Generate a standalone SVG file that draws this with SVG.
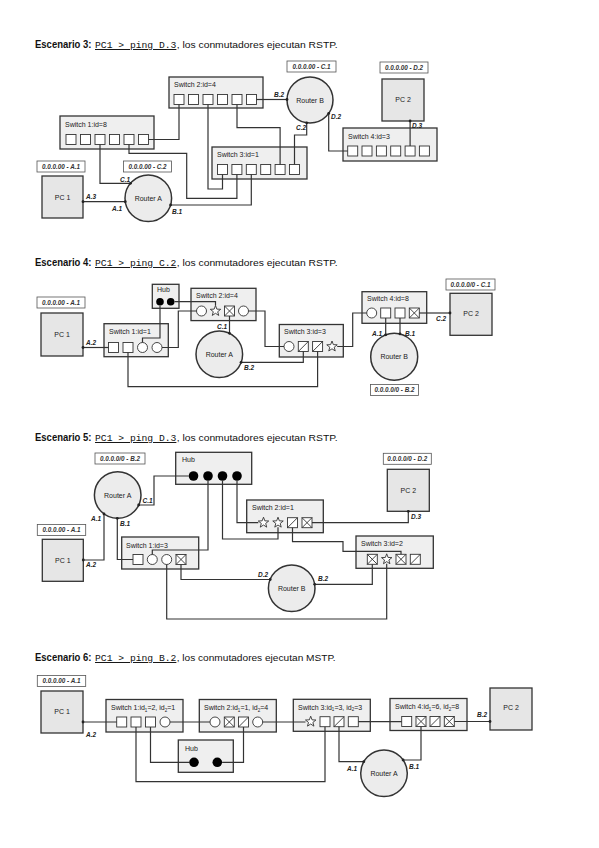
<svg xmlns="http://www.w3.org/2000/svg" xmlns:xlink="http://www.w3.org/1999/xlink" width="599" height="848" viewBox="0 0 599 848">
<style>
.bg{fill:#fff}
.sw{fill:#efefef;stroke:#333;stroke-width:1.3}
.pc{fill:#e6e6e6;stroke:#333;stroke-width:1.3}
.rt{fill:#ececec;stroke:#333;stroke-width:1.5}
.lb{fill:#fff;stroke:#555;stroke-width:0.8}
.port{fill:#fff;stroke:#333;stroke-width:0.9}
.hd{fill:#000}
.w{fill:none;stroke:#333;stroke-width:1.2}
.cd{fill:#222}
.t{font-family:"Liberation Sans",Arial,sans-serif;font-size:7px;fill:#1a1a1a}
.tc{font-family:"Liberation Sans",Arial,sans-serif;font-size:7px;fill:#1a1a1a;text-anchor:middle}
.lt{font-family:"Liberation Sans",Arial,sans-serif;font-size:6.3px;font-style:italic;font-weight:bold;fill:#333;text-anchor:middle}
.if{font-family:"Liberation Sans",Arial,sans-serif;font-size:6.5px;font-style:italic;font-weight:bold;fill:#222}
.esc{font-family:"Liberation Sans",Arial,sans-serif;font-size:10.5px;font-weight:bold;fill:#111}
.cmd{font-family:"Liberation Mono","Courier New",monospace;font-size:9.7px;fill:#111;text-decoration:underline}
.rest{font-family:"Liberation Sans",Arial,sans-serif;font-size:9.5px;fill:#111}
</style>
<defs>
<g id="p-sq"><rect class="port" x="-5" y="-5" width="10" height="10"/></g>
<g id="p-ci"><circle class="port" r="5"/></g>
<g id="p-st"><path class="port" d="M0,-5.5 L1.35,-1.86 L5.23,-1.7 L2.19,0.71 L3.23,4.45 L0,2.3 L-3.23,4.45 L-2.19,0.71 L-5.23,-1.7 L-1.35,-1.86 Z"/></g>
<g id="p-x"><rect class="port" x="-5" y="-5" width="10" height="10"/><path class="port" d="M-5,-5 L5,5 M-5,5 L5,-5"/></g>
<g id="p-sl"><rect class="port" x="-5" y="-5" width="10" height="10"/><path class="port" d="M-5,5 L5,-5"/></g>
</defs>
<rect class="bg" x="0" y="0" width="599" height="848"/>

<!-- ================= Scenario 3 ================= -->
<g id="title3">
<text class="esc" x="35" y="48" textLength="56.5" lengthAdjust="spacingAndGlyphs">Escenario 3:</text>
<text class="cmd" x="95" y="48">PC1 &gt; ping D.3</text>
<text class="rest" x="176.7" y="48" textLength="161" lengthAdjust="spacingAndGlyphs">, los conmutadores ejecutan RSTP.</text>
</g>
<g id="s3-sw1">
<rect class="sw" x="60" y="116" width="94" height="33"/>
<text class="t" x="65" y="126.5">Switch 1:id=8</text>
<use href="#p-sq" x="71" y="139.5"/><use href="#p-sq" x="85.5" y="139.5"/><use href="#p-sq" x="100" y="139.5"/>
<use href="#p-sq" x="114.5" y="139.5"/><use href="#p-sq" x="129" y="139.5"/><use href="#p-sq" x="143.5" y="139.5"/>
</g>
<g id="s3-sw2">
<rect class="sw" x="169" y="77" width="94" height="31"/>
<text class="t" x="174" y="87">Switch 2:id=4</text>
<use href="#p-sq" x="179" y="99.5"/><use href="#p-sq" x="193.5" y="99.5"/><use href="#p-sq" x="208" y="99.5"/>
<use href="#p-sq" x="222.5" y="99.5"/><use href="#p-sq" x="237" y="99.5"/><use href="#p-sq" x="251.5" y="99.5"/>
</g>
<g id="s3-sw3">
<rect class="sw" x="212" y="147" width="95" height="32"/>
<text class="t" x="217" y="157">Switch 3:id=1</text>
<use href="#p-sq" x="222.5" y="169.5"/><use href="#p-sq" x="236.9" y="169.5"/><use href="#p-sq" x="251.3" y="169.5"/>
<use href="#p-sq" x="265.7" y="169.5"/><use href="#p-sq" x="280.1" y="169.5"/><use href="#p-sq" x="294.5" y="169.5"/>
</g>
<g id="s3-sw4">
<rect class="sw" x="343" y="128" width="94" height="33"/>
<text class="t" x="348" y="138.5">Switch 4:id=3</text>
<use href="#p-sq" x="352.7" y="151"/><use href="#p-sq" x="367" y="151"/><use href="#p-sq" x="381.4" y="151"/>
<use href="#p-sq" x="395.7" y="151"/><use href="#p-sq" x="410.1" y="151"/><use href="#p-sq" x="424.4" y="151"/>
</g>
<g id="s3-rB">
<circle class="rt" cx="310" cy="100" r="23"/>
<text class="tc" x="310" y="102.5">Router B</text>
<rect class="lb" x="287" y="61" width="49" height="11"/>
<text class="lt" x="311.5" y="68.8">0.0.0.00 - C.1</text>
</g>
<g id="s3-pc2">
<rect class="pc" x="382" y="79" width="42" height="42"/>
<text class="tc" x="403" y="102">PC 2</text>
<rect class="lb" x="380" y="62" width="48" height="11"/>
<text class="lt" x="404" y="69.8">0.0.0.00 - D.2</text>
</g>
<g id="s3-pc1">
<rect class="pc" x="42" y="176" width="41" height="42"/>
<text class="tc" x="62.5" y="199.5">PC 1</text>
<rect class="lb" x="37" y="161" width="48" height="11"/>
<text class="lt" x="61" y="168.8">0.0.0.00 - A.1</text>
</g>
<g id="s3-rA">
<circle class="rt" cx="148.3" cy="198.3" r="23.3"/>
<text class="tc" x="148.3" y="200.8">Router A</text>
<rect class="lb" x="123.5" y="161" width="48" height="11"/>
<text class="lt" x="147.5" y="168.8">0.0.0.00 - C.2</text>
</g>

<!-- ================= Scenario 4 ================= -->
<g id="title4">
<text class="esc" x="35" y="266" textLength="56.5" lengthAdjust="spacingAndGlyphs">Escenario 4:</text>
<text class="cmd" x="95" y="266">PC1 &gt; ping C.2</text>
<text class="rest" x="176.7" y="266" textLength="161" lengthAdjust="spacingAndGlyphs">, los conmutadores ejecutan RSTP.</text>
</g>
<g id="s4-hub">
<rect class="sw" x="152.3" y="284.3" width="26.7" height="24"/>
<text class="t" x="157" y="292">Hub</text>
<circle class="hd" cx="160" cy="301.7" r="3.8"/><circle class="hd" cx="170.7" cy="301.7" r="3.8"/>
</g>
<g id="s4-sw2">
<rect class="sw" x="191" y="288.3" width="65" height="32.3"/>
<text class="t" x="196" y="298">Switch 2:id=4</text>
<use href="#p-ci" x="201.5" y="311"/><use href="#p-st" x="215.5" y="311"/><use href="#p-x" x="229.5" y="311"/><use href="#p-ci" x="243.5" y="311"/>
</g>
<g id="s4-sw1">
<rect class="sw" x="104" y="323.7" width="64.3" height="33"/>
<text class="t" x="109" y="333.5">Switch 1:id=1</text>
<use href="#p-sq" x="113.5" y="347.5"/><use href="#p-sq" x="128" y="347.5"/><use href="#p-ci" x="142.5" y="347.5"/><use href="#p-ci" x="157" y="347.5"/>
</g>
<g id="s4-sw3">
<rect class="sw" x="279.3" y="324.5" width="64" height="32.5"/>
<text class="t" x="284" y="334">Switch 3:id=3</text>
<use href="#p-ci" x="289" y="346.5"/><use href="#p-sl" x="303.3" y="346.5"/><use href="#p-sl" x="317.6" y="346.5"/><use href="#p-st" x="332" y="346.5"/>
</g>
<g id="s4-sw4">
<rect class="sw" x="362" y="291.7" width="64.7" height="31.6"/>
<text class="t" x="367" y="301">Switch 4:id=8</text>
<use href="#p-ci" x="371.7" y="313"/><use href="#p-sq" x="385.7" y="313"/><use href="#p-sq" x="400" y="313"/><use href="#p-x" x="414.3" y="313"/>
</g>
<g id="s4-rA">
<circle class="rt" cx="219.3" cy="354.2" r="23.3"/>
<text class="tc" x="219.3" y="356.7">Router A</text>
</g>
<g id="s4-rB">
<circle class="rt" cx="394.2" cy="356.7" r="23.5"/>
<text class="tc" x="394.2" y="359.2">Router B</text>
<rect class="lb" x="370.5" y="384.5" width="48" height="11"/>
<text class="lt" x="394.5" y="392.3">0.0.0.0/0 - B.2</text>
</g>
<g id="s4-pc1">
<rect class="pc" x="41" y="313" width="42" height="43"/>
<text class="tc" x="62" y="336.5">PC 1</text>
<rect class="lb" x="37" y="297" width="48" height="11"/>
<text class="lt" x="61" y="304.8">0.0.0.00 - A.1</text>
</g>
<g id="s4-pc2">
<rect class="pc" x="450" y="293.3" width="42" height="42"/>
<text class="tc" x="471" y="316">PC 2</text>
<rect class="lb" x="446" y="279" width="49" height="11"/>
<text class="lt" x="470.5" y="286.8">0.0.0.0/0 - C.1</text>
</g>

<!-- ================= Scenario 5 ================= -->
<g id="title5">
<text class="esc" x="35" y="441" textLength="56.5" lengthAdjust="spacingAndGlyphs">Escenario 5:</text>
<text class="cmd" x="95" y="441">PC1 &gt; ping D.3</text>
<text class="rest" x="176.7" y="441" textLength="161" lengthAdjust="spacingAndGlyphs">, los conmutadores ejecutan RSTP.</text>
</g>
<g id="s5-rA">
<circle class="rt" cx="117.7" cy="495" r="23.3"/>
<text class="tc" x="117.7" y="497.5">Router A</text>
<rect class="lb" x="95" y="453" width="50" height="11"/>
<text class="lt" x="120" y="460.8">0.0.0.0/0 - B.2</text>
</g>
<g id="s5-hub">
<rect class="sw" x="175.7" y="452.3" width="76" height="32"/>
<text class="t" x="182" y="462">Hub</text>
<circle class="hd" cx="193.5" cy="476" r="4.8"/><circle class="hd" cx="208" cy="476" r="4.8"/>
<circle class="hd" cx="222.5" cy="476" r="4.8"/><circle class="hd" cx="237" cy="476" r="4.8"/>
</g>
<g id="s5-sw2">
<rect class="sw" x="246.7" y="500" width="76.6" height="32.7"/>
<text class="t" x="252" y="510">Switch 2:id=1</text>
<use href="#p-st" x="263.5" y="522.7"/><use href="#p-st" x="278" y="522.7"/><use href="#p-sl" x="292.5" y="522.7"/><use href="#p-x" x="307" y="522.7"/>
</g>
<g id="s5-sw1">
<rect class="sw" x="121.7" y="537" width="77" height="32"/>
<text class="t" x="126" y="547.5">Switch 1:id=3</text>
<use href="#p-sq" x="138" y="559.5"/><use href="#p-ci" x="152.3" y="559.5"/><use href="#p-ci" x="166.7" y="559.5"/><use href="#p-x" x="181" y="559.5"/>
</g>
<g id="s5-sw3">
<rect class="sw" x="356" y="536" width="77.3" height="32.3"/>
<text class="t" x="361" y="546">Switch 3:id=2</text>
<use href="#p-x" x="372.3" y="559.3"/><use href="#p-st" x="386.7" y="559.3"/><use href="#p-x" x="401" y="559.3"/><use href="#p-sl" x="415.3" y="559.3"/>
</g>
<g id="s5-pc1">
<rect class="pc" x="42.3" y="539.3" width="41" height="42"/>
<text class="tc" x="62.8" y="562.5">PC 1</text>
<rect class="lb" x="37.3" y="524.5" width="48.4" height="11"/>
<text class="lt" x="61.5" y="532.3">0.0.0.00 - A.1</text>
</g>
<g id="s5-pc2">
<rect class="pc" x="387.3" y="469.3" width="42" height="42"/>
<text class="tc" x="408.3" y="492.5">PC 2</text>
<rect class="lb" x="383.3" y="453.3" width="48" height="11"/>
<text class="lt" x="407.3" y="461.1">0.0.0.0/0 - D.2</text>
</g>
<g id="s5-rB">
<circle class="rt" cx="291.7" cy="588.3" r="23.3"/>
<text class="tc" x="291.7" y="590.8">Router B</text>
</g>

<!-- ================= Scenario 6 ================= -->
<g id="title6">
<text class="esc" x="35" y="661" textLength="56.5" lengthAdjust="spacingAndGlyphs">Escenario 6:</text>
<text class="cmd" x="95" y="661">PC1 &gt; ping B.2</text>
<text class="rest" x="176.7" y="661" textLength="159" lengthAdjust="spacingAndGlyphs">, los conmutadores ejecutan MSTP.</text>
</g>
<g id="s6-pc1">
<rect class="pc" x="41" y="691" width="42" height="42"/>
<text class="tc" x="62" y="714">PC 1</text>
<rect class="lb" x="37.3" y="675.5" width="48.4" height="11"/>
<text class="lt" x="61.5" y="683.3">0.0.0.00 - A.1</text>
</g>
<g id="s6-sw1">
<rect class="sw" x="106" y="699.5" width="77" height="32.5"/>
<text class="t" x="111" y="710">Switch 1:id<tspan font-size="4.5" dy="1.5">1</tspan><tspan dy="-1.5">=2, id</tspan><tspan font-size="4.5" dy="1.5">2</tspan><tspan dy="-1.5">=1</tspan></text>
<use href="#p-sq" x="121.7" y="722"/><use href="#p-sq" x="136" y="722"/><use href="#p-sq" x="150.5" y="722"/><use href="#p-ci" x="165" y="722"/>
</g>
<g id="s6-sw2">
<rect class="sw" x="199.3" y="699.5" width="77" height="32.5"/>
<text class="t" x="204" y="710">Switch 2:id<tspan font-size="4.5" dy="1.5">1</tspan><tspan dy="-1.5">=1, id</tspan><tspan font-size="4.5" dy="1.5">2</tspan><tspan dy="-1.5">=4</tspan></text>
<use href="#p-ci" x="215" y="722"/><use href="#p-x" x="229.3" y="722"/><use href="#p-sl" x="243.5" y="722"/><use href="#p-ci" x="257.7" y="722"/>
</g>
<g id="s6-hub">
<rect class="sw" x="178.3" y="740" width="55" height="32.3"/>
<text class="t" x="185" y="751">Hub</text>
<circle class="hd" cx="194" cy="762.3" r="4.8"/><circle class="hd" cx="217.3" cy="762.3" r="4.8"/>
</g>
<g id="s6-sw3">
<rect class="sw" x="293.3" y="699.3" width="77" height="32"/>
<text class="t" x="298" y="709.5">Switch 3:id<tspan font-size="4.5" dy="1.5">1</tspan><tspan dy="-1.5">=3, id</tspan><tspan font-size="4.5" dy="1.5">2</tspan><tspan dy="-1.5">=3</tspan></text>
<use href="#p-st" x="310.7" y="721.7"/><use href="#p-sq" x="325" y="721.7"/><use href="#p-sl" x="339" y="721.7"/><use href="#p-sq" x="353.3" y="721.7"/>
</g>
<g id="s6-sw4">
<rect class="sw" x="390" y="698.5" width="77" height="32"/>
<text class="t" x="395" y="709">Switch 4:id<tspan font-size="4.5" dy="1.5">1</tspan><tspan dy="-1.5">=6, id</tspan><tspan font-size="4.5" dy="1.5">2</tspan><tspan dy="-1.5">=8</tspan></text>
<use href="#p-sq" x="406.7" y="721.5"/><use href="#p-x" x="421" y="721.5"/><use href="#p-sl" x="435" y="721.5"/><use href="#p-x" x="449.3" y="721.5"/>
</g>
<g id="s6-pc2">
<rect class="pc" x="490" y="688" width="42" height="42"/>
<text class="tc" x="511" y="710">PC 2</text>
</g>
<g id="s6-rA">
<circle class="rt" cx="384" cy="773.3" r="23.3"/>
<text class="tc" x="384" y="775.8">Router A</text>
</g>

<!-- ================= Connectors ================= -->
<g id="connectors">
<!-- scenario 3 -->
<path class="w" d="M83,201.7 H125.3"/>
<path class="w" d="M100,144.5 V183.3 H130.5"/>
<path class="w" d="M170.6,205 H251.3 V174.5"/>
<path class="w" d="M129,144.5 V153.3 H186.7 V198.3 H236.9 V174.5"/>
<path class="w" d="M148.5,139.5 H179 V104.5"/>
<path class="w" d="M208,104.5 V189 H222.5 V174.5"/>
<path class="w" d="M237,104.5 V127.7 H280.1 V164.5"/>
<path class="w" d="M256.5,99.5 H287"/>
<path class="w" d="M328.7,113.4 V151 H347.7"/>
<path class="w" d="M306.7,122.8 V135 H294.5 V164.5"/>
<path class="w" d="M410.1,121 V146"/>
<circle class="cd" cx="83" cy="201.7" r="1.4"/><circle class="cd" cx="125.3" cy="201.7" r="1.4"/>
<circle class="cd" cx="130.5" cy="183.3" r="1.4"/><circle class="cd" cx="170.6" cy="205" r="1.4"/>
<circle class="cd" cx="287" cy="99.5" r="1.4"/><circle class="cd" cx="328.7" cy="113.4" r="1.4"/>
<circle class="cd" cx="306.7" cy="122.8" r="1.4"/><circle class="cd" cx="410.1" cy="121" r="1.4"/>
<text class="if" x="86" y="199">A.3</text>
<text class="if" x="112" y="210.5">A.1</text>
<text class="if" x="120" y="181.5">C.1</text>
<text class="if" x="172" y="214">B.1</text>
<text class="if" x="274" y="96.5">B.2</text>
<text class="if" x="331" y="118.5">D.2</text>
<text class="if" x="296" y="130">C.2</text>
<text class="if" x="412" y="128">D.3</text>

<!-- scenario 4 -->
<path class="w" d="M83,347.5 H108.5"/>
<path class="w" d="M160,305.5 V338 H142.5 V342.5"/>
<path class="w" d="M174.5,301.7 H215.5 V305.5"/>
<path class="w" d="M162,347.5 H178.3 V311 H196.5"/>
<path class="w" d="M248.5,311 H265 V346.5 H284"/>
<path class="w" d="M229.5,316 V333.3"/>
<path class="w" d="M241.1,362.3 H303.3 V351.5"/>
<path class="w" d="M128,352.5 V386.7 H317.6 V351.5"/>
<path class="w" d="M337.2,346.5 H352.7 V313 H366.7"/>
<path class="w" d="M385.7,318 V334.8"/>
<path class="w" d="M400,318 V333.9"/>
<path class="w" d="M419.3,313 H450"/>
<circle class="cd" cx="83" cy="347.5" r="1.4"/><circle class="cd" cx="229.5" cy="333.3" r="1.4"/>
<circle class="cd" cx="241.1" cy="362.3" r="1.4"/><circle class="cd" cx="385.7" cy="334.8" r="1.4"/>
<circle class="cd" cx="400" cy="333.9" r="1.4"/><circle class="cd" cx="450" cy="313" r="1.4"/>
<text class="if" x="86" y="344.5">A.2</text>
<text class="if" x="217" y="329">C.1</text>
<text class="if" x="244" y="370">B.2</text>
<text class="if" x="372" y="336">A.1</text>
<text class="if" x="405" y="336">B.1</text>
<text class="if" x="436" y="321">C.2</text>

<!-- scenario 5 -->
<path class="w" d="M138.7,505 H154 V476 H188.7"/>
<path class="w" d="M208,480.8 V550 H152.3 V554.5"/>
<path class="w" d="M222.5,480.8 V539 H278 V527.2"/>
<path class="w" d="M237,480.8 V522.7 H258.3"/>
<path class="w" d="M117.3,518.3 V559.5 H133"/>
<path class="w" d="M104,513.9 V560 H83.3"/>
<path class="w" d="M181,564.5 V579.5 H270.2"/>
<path class="w" d="M314.7,584.3 H372.3 V564.3"/>
<path class="w" d="M166.7,564.5 V619 H386.7 V563.8"/>
<path class="w" d="M292.5,527.7 V541.7 H343 V551.3 H401 V554.3"/>
<path class="w" d="M312,522.7 H408.3 V511.3"/>
<circle class="cd" cx="138.7" cy="505" r="1.4"/><circle class="cd" cx="117.3" cy="518.3" r="1.4"/>
<circle class="cd" cx="104" cy="513.9" r="1.4"/><circle class="cd" cx="83.3" cy="560" r="1.4"/>
<circle class="cd" cx="270.2" cy="579.5" r="1.4"/><circle class="cd" cx="314.7" cy="584.3" r="1.4"/>
<circle class="cd" cx="408.3" cy="511.3" r="1.4"/>
<text class="if" x="142.5" y="503">C.1</text>
<text class="if" x="120" y="525.5">B.1</text>
<text class="if" x="91" y="521">A.1</text>
<text class="if" x="86" y="567">A.2</text>
<text class="if" x="258" y="576.5">D.2</text>
<text class="if" x="318" y="581">B.2</text>
<text class="if" x="411" y="519">D.3</text>

<!-- scenario 6 -->
<path class="w" d="M83,722 H116.7"/>
<path class="w" d="M170,722 H210"/>
<path class="w" d="M150.5,727 V762.3 H189.2"/>
<path class="w" d="M243.5,727 V762.3 H222.1"/>
<path class="w" d="M136,727 V781.7 H325 V726.7"/>
<path class="w" d="M262.7,722 H305.5"/>
<path class="w" d="M358.3,721.7 H401.7"/>
<path class="w" d="M454.3,721.5 H490"/>
<path class="w" d="M339,726.7 V761.7 H363.8"/>
<path class="w" d="M421,726.5 V760 H403.1"/>
<circle class="cd" cx="83" cy="722" r="1.4"/><circle class="cd" cx="490" cy="721.5" r="1.4"/>
<circle class="cd" cx="363.8" cy="761.7" r="1.4"/><circle class="cd" cx="403.1" cy="760" r="1.4"/>
<text class="if" x="86" y="737">A.2</text>
<text class="if" x="477" y="717">B.2</text>
<text class="if" x="347" y="771">A.1</text>
<text class="if" x="409" y="769">B.1</text>
</g>
</svg>
